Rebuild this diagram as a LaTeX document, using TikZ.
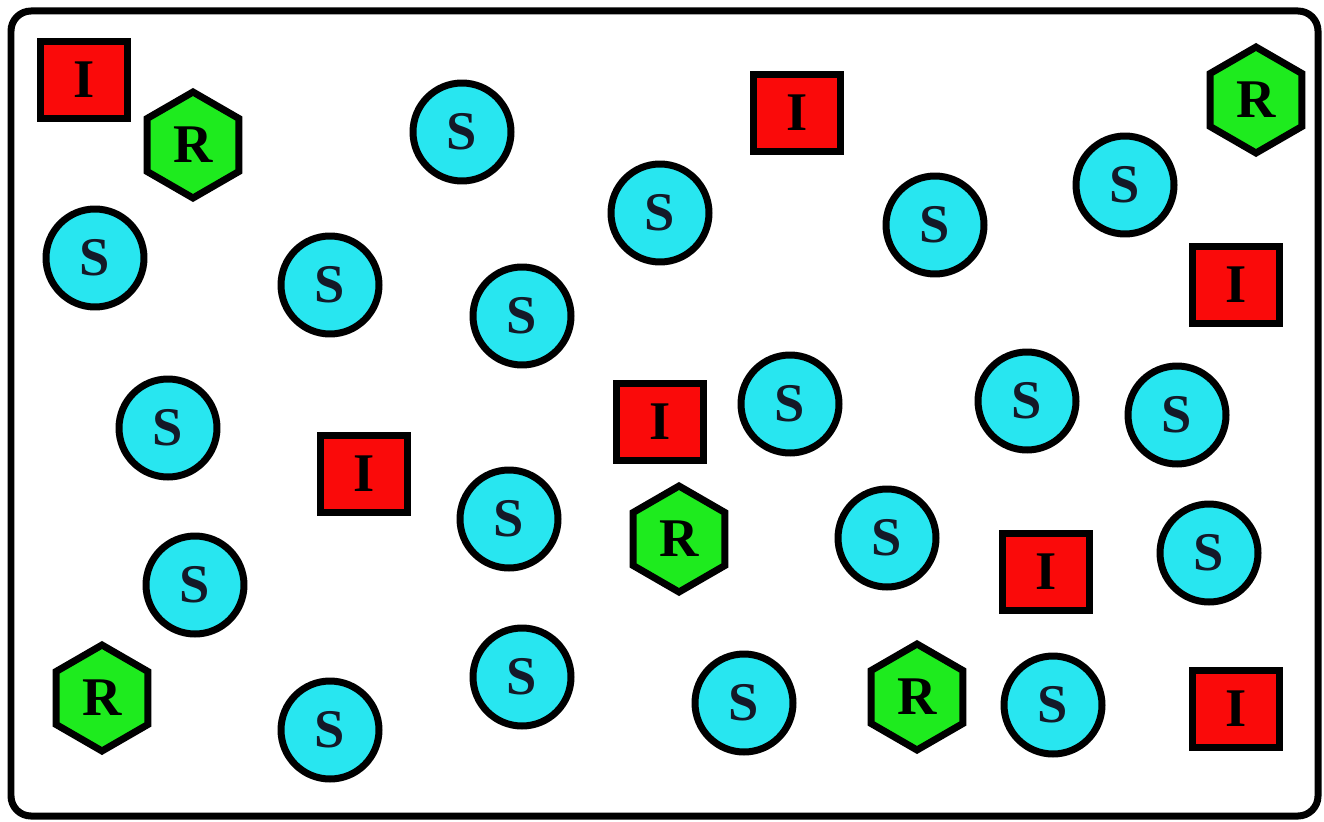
\documentclass[tikz,border=0pt]{standalone}
\usepackage{fontspec}
\setmainfont{Liberation Serif}
\usepackage{tikz}
\usetikzlibrary{shapes,shapes.geometric,positioning}
\definecolor{sircyan}{RGB}{40,230,240}
\definecolor{sirred}{RGB}{250,10,10}
\definecolor{sirgreen}{RGB}{30,235,30}
\definecolor{sirink}{RGB}{20,25,40}
\tikzset{
  susnode/.style={
    circle, draw=black, fill=sircyan, line width=0.14cm,
    minimum size=1.96cm, inner sep=0pt,
    font=\fontsize{31}{32}\selectfont\bfseries, text=sirink
  },
  infnode/.style={
    rectangle, draw=black, fill=sirred, line width=0.14cm,
    minimum width=1.74cm, minimum height=1.54cm, inner sep=0pt,
    font=\fontsize{31}{32}\selectfont\bfseries, text=black
  },
  recnode/.style={
    regular polygon, regular polygon sides=6, shape border rotate=30,
    draw=black, fill=sirgreen, line width=0.14cm,
    minimum size=2.12cm, inner sep=0pt,
    font=\fontsize{31}{32}\selectfont\bfseries, text=black
  },
  framebox/.style={draw=black, line width=0.14cm, rounded corners=0.4cm}
}
\begin{document}
\begin{tikzpicture}[x=0.02cm, y=-0.02cm]
  \useasboundingbox (0,0) rectangle (1324,821);
  \draw[framebox] (11,11) rectangle (1318,816);

  % infected
  \node[infnode] (i1) at (84,80) {I};
  \node[infnode] (i2) at (797,113) {I};
  \node[infnode] (i3) at (1236,285) {I};
  \node[infnode] (i4) at (660,422) {I};
  \node[infnode] (i5) at (364,474) {I};
  \node[infnode] (i6) at (1046,572) {I};
  \node[infnode] (i7) at (1236,709) {I};

  % recovered
  \node[recnode] (r1) at (193,145) {R};
  \node[recnode] (r2) at (1256,100) {R};
  \node[recnode] (r3) at (679,539) {R};
  \node[recnode] (r4) at (102,698) {R};
  \node[recnode] (r5) at (917,697) {R};

  % susceptible
  \node[susnode] (s1) at (462,132) {S};
  \node[susnode] (s2) at (660,213) {S};
  \node[susnode] (s3) at (935,225) {S};
  \node[susnode] (s4) at (1125,185) {S};
  \node[susnode] (s5) at (95,258) {S};
  \node[susnode] (s6) at (330,285) {S};
  \node[susnode] (s7) at (522,316) {S};
  \node[susnode] (s8) at (168,428) {S};
  \node[susnode] (s9) at (790,404) {S};
  \node[susnode] (s10) at (1027,401) {S};
  \node[susnode] (s11) at (1177,415) {S};
  \node[susnode] (s12) at (509,519) {S};
  \node[susnode] (s13) at (887,538) {S};
  \node[susnode] (s14) at (1209,553) {S};
  \node[susnode] (s15) at (195,585) {S};
  \node[susnode] (s16) at (522,677) {S};
  \node[susnode] (s17) at (330,730) {S};
  \node[susnode] (s18) at (744,703) {S};
  \node[susnode] (s19) at (1053,705) {S};
\end{tikzpicture}
\end{document}
